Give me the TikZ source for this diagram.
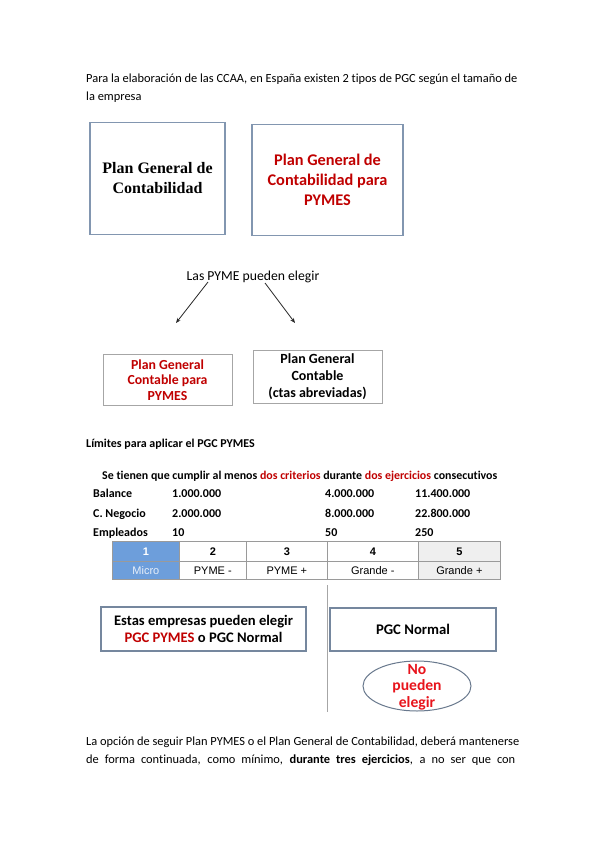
\documentclass[tikz,border=0pt]{standalone}
\usepackage{fontspec}
\setmainfont{Carlito}[Ligatures=NoCommon]
\newfontfamily\serifbf{Liberation Serif}
\newfontfamily\arialf{Liberation Sans}
\usetikzlibrary{arrows.meta,shapes.geometric}
\definecolor{dred}{HTML}{C00000}
\definecolor{bred}{HTML}{E8141C}
\definecolor{bluegray}{HTML}{8296B0}
\definecolor{boxgray}{HTML}{A6A6A6}
\definecolor{cellblue}{HTML}{6D9EDB}
\definecolor{cellgray}{HTML}{EFEFEF}
\definecolor{gridgray}{HTML}{9A9A9A}
\tikzset{
  bodytext/.style={anchor=base west, inner sep=0pt, font=\fontsize{12.4}{18}\selectfont},
  bigbox/.style={draw=bluegray, line width=1.2pt, inner sep=0pt, align=center},
  smallbox/.style={draw=boxgray, line width=0.9pt, inner sep=0pt, align=center},
  optbox/.style={draw=bluegray!90!black, line width=1.1pt, inner sep=0pt, align=center},
  tcell/.style={draw=gridgray, line width=0.7pt, anchor=north west, inner sep=0pt, font=\arialf\fontsize{11}{12}\selectfont},
  hcell/.style={tcell, minimum height=20pt, font=\arialf\bfseries\fontsize{11}{12}\selectfont},
  rowlab/.style={anchor=base west, inner sep=0pt, font=\bfseries\fontsize{12}{14}\selectfont},
  arr/.style={-{Stealth[length=5pt,width=4pt]}, line width=0.8pt, black!85}
}
\begin{document}
\begin{tikzpicture}[x=1pt,y=-1pt]
\useasboundingbox (0,0) rectangle (599,848);
\fill[white] (0,0) rectangle (599,848);

% intro text
\node[bodytext] (intro1) at (86,83) {Para la elaboración de las CCAA, en España existen 2 tipos de PGC según el tamaño de};
\node[bodytext] (intro2) at (86,101) {la empresa};

% top boxes
\node[bigbox, minimum width=135pt, minimum height=112pt, font=\serifbf\bfseries\fontsize{16}{20}\selectfont] (pgc) at (157.5,178.5) {Plan General de\\Contabilidad};
\node[bigbox, minimum width=151pt, minimum height=111pt, text=dred, font=\bfseries\fontsize{16.3}{20}\selectfont] (pgcp) at (327.5,180) {Plan General de\\Contabilidad para\\PYMES};

% choice
\node[anchor=base, inner sep=0pt, font=\fontsize{13.7}{15}\selectfont] (elegir) at (253,280) {Las PYME pueden elegir};
\coordinate (a1s) at (208,282);
\coordinate (a1e) at (176,323);
\coordinate (a2s) at (265,283);
\coordinate (a2e) at (295,323);
\draw[arr] (a1s) -- (a1e);
\draw[arr] (a2s) -- (a2e);

\node[smallbox, minimum width=129pt, minimum height=51pt, text=dred, font=\bfseries\fontsize{13.8}{15.5}\selectfont] (pgcpy) at (167.5,380) {Plan General\\Contable para\\PYMES};
\node[smallbox, minimum width=129pt, minimum height=53pt, font=\bfseries\fontsize{14}{17}\selectfont] (pgcab) at (317.5,377) {Plan General\\Contable\\(ctas abreviadas)};

% limits
\node[anchor=base west, inner sep=0pt, font=\bfseries\fontsize{12}{14}\selectfont] (lim) at (86,447) {Límites para aplicar el PGC PYMES};
\node[anchor=base west, inner sep=0pt, font=\bfseries\fontsize{11.9}{14}\selectfont] (crit) at (102,479) {Se tienen que cumplir al menos \textcolor{dred}{dos criterios} durante \textcolor{dred}{dos ejercicios} consecutivos};

\node[rowlab] (bal) at (93,497) {Balance};
\node[rowlab] (bal1) at (172,497) {1.000.000};
\node[rowlab] (bal2) at (325,497) {4.000.000};
\node[rowlab] (bal3) at (415,497) {11.400.000};
\node[rowlab] (neg) at (93,517) {C. Negocio};
\node[rowlab] (neg1) at (172,517) {2.000.000};
\node[rowlab] (neg2) at (325,517) {8.000.000};
\node[rowlab] (neg3) at (415,517) {22.800.000};
\node[rowlab] (emp) at (93,536) {Empleados};
\node[rowlab] (emp1) at (172,536) {10};
\node[rowlab] (emp2) at (325,536) {50};
\node[rowlab] (emp3) at (415,536) {250};

% table
\node[hcell, fill=cellblue, text=white, minimum width=67pt] (h1) at (112,541) {1};
\node[hcell, minimum width=67pt] (h2) at (179,541) {2};
\node[hcell, minimum width=81pt] (h3) at (246,541) {3};
\node[hcell, minimum width=91pt] (h4) at (327,541) {4};
\node[hcell, fill=cellgray, minimum width=82pt] (h5) at (418,541) {5};
\node[tcell, fill=cellblue, text=white!85!cellblue, minimum width=67pt, minimum height=18pt] (c1) at (112,561) {Micro};
\node[tcell, minimum width=67pt, minimum height=18pt] (c2) at (179,561) {PYME -};
\node[tcell, minimum width=81pt, minimum height=18pt] (c3) at (246,561) {PYME +};
\node[tcell, minimum width=91pt, minimum height=18pt] (c4) at (327,561) {Grande -};
\node[tcell, fill=cellgray, minimum width=82pt, minimum height=18pt] (c5) at (418,561) {Grande +};

% divider
\coordinate (dtop) at (327,585);
\coordinate (dbot) at (327,712);
\draw[gray!70, line width=0.8pt] (dtop) -- (dbot);

% lower boxes
\node[optbox, minimum width=205pt, minimum height=44pt, font=\bfseries\fontsize{14.6}{16.5}\selectfont] (esta) at (203.5,629) {Estas empresas pueden elegir\\\textcolor{dred}{PGC PYMES} o PGC Normal};
\node[optbox, minimum width=166pt, minimum height=43pt, font=\bfseries\fontsize{14.7}{16}\selectfont] (normal) at (413,629.5) {PGC Normal};
\node[draw=bluegray!80!black, line width=1pt, ellipse, minimum width=108pt, minimum height=50pt, inner sep=0pt] (ell) at (417,686) {};
\node[text=bred, align=center, inner sep=0pt, font=\bfseries\fontsize{15.6}{16.5}\selectfont] (nopue) at (417,687) {No\\pueden\\elegir};

% closing text
\node[bodytext] (out1) at (86,745) {La opción de seguir Plan PYMES o el Plan General de Contabilidad, deberá mantenerse};
\node[bodytext] (out2) at (86,763) {\makebox[429pt][s]{de forma continuada, como mínimo, \textbf{durante tres ejercicios}, a no ser que con}};
\end{tikzpicture}
\end{document}
